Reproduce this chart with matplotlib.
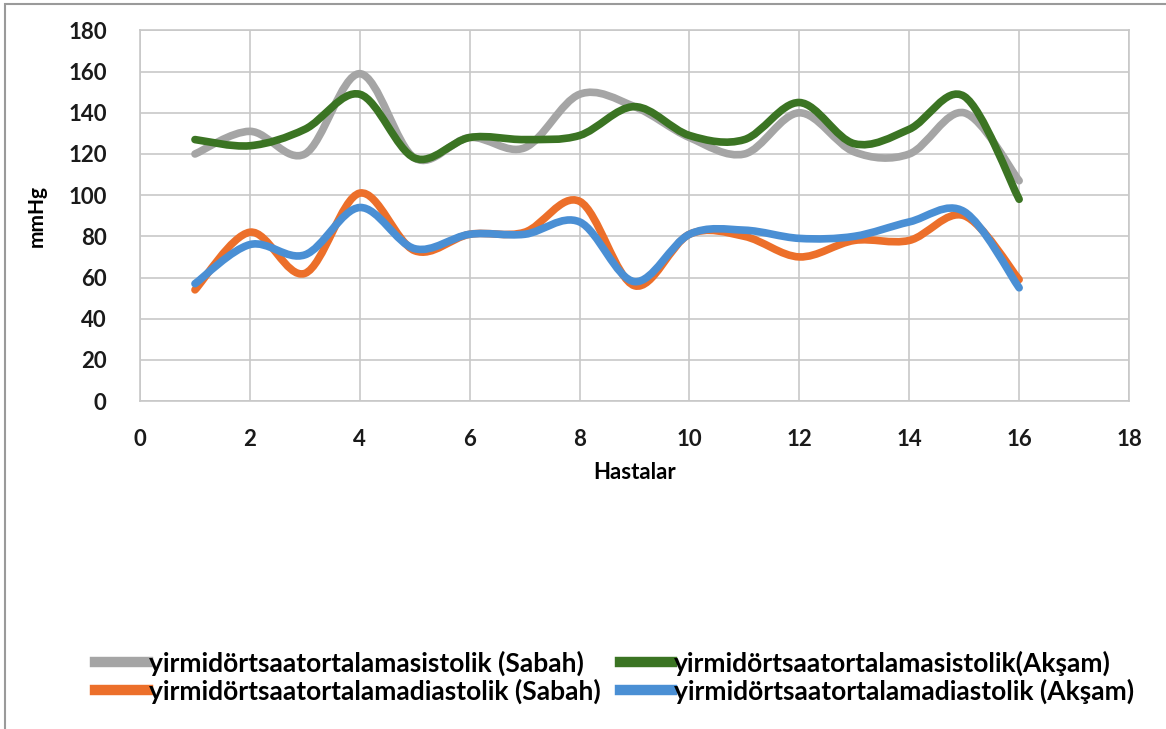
import numpy as np
import matplotlib.pyplot as plt
from matplotlib.path import Path
from matplotlib.patches import PathPatch, Rectangle
from matplotlib.lines import Line2D

plt.rcParams['font.family'] = ['Lato', 'DejaVu Sans']
plt.rcParams['font.weight'] = 'bold'

# Hasta numaraları ve 24 saatlik ortalama tansiyon değerleri (mmHg)
hastalar = np.arange(1, 17)
sistolik_sabah = [120, 131, 120, 159, 118, 128, 123, 149, 143, 128, 120, 140, 121, 120, 140, 107]
sistolik_aksam = [127, 124, 132, 149, 118, 128, 127, 129, 143, 129, 127, 145, 125, 132, 148, 98]
diastolik_sabah = [54, 82, 62, 101, 73, 81, 82, 97, 56, 81, 80, 70, 78, 78, 90, 59]
diastolik_aksam = [57, 76, 71, 94, 74, 81, 81, 87, 58, 81, 83, 79, 80, 87, 92, 55]

etiketler = ['yirmidörtsaatortalamasistolik (Sabah)',
             'yirmidörtsaatortalamasistolik(Akşam)',
             'yirmidörtsaatortalamadiastolik (Sabah)',
             'yirmidörtsaatortalamadiastolik (Akşam)']
renkler = ['#a5a5a5', '#3b7423', '#ec6f2a', '#4a8fd4']


def smooth_path(x, y):
    # Excel tarzı yumuşatılmış çizgi: noktalar arasında Bezier eğrileri
    x = np.asarray(x, float)
    y = np.asarray(y, float)
    px = np.concatenate([[x[0]], x, [x[-1]]])
    py = np.concatenate([[y[0]], y, [y[-1]]])
    verts = [(x[0], y[0])]
    codes = [Path.MOVETO]
    for i in range(1, len(x)):
        c1 = (px[i] + (px[i + 1] - px[i - 1]) / 6, py[i] + (py[i + 1] - py[i - 1]) / 6)
        c2 = (px[i + 1] - (px[i + 2] - px[i]) / 6, py[i + 1] - (py[i + 2] - py[i]) / 6)
        verts += [c1, c2, (px[i + 1], py[i + 1])]
        codes += [Path.CURVE4] * 3
    return Path(verts, codes)


fig = plt.figure(figsize=(11.66, 7.29), dpi=100)
ax = fig.add_axes([0.1201, 0.4499, 0.8482, 0.5083])

seriler = [sistolik_sabah, sistolik_aksam, diastolik_sabah, diastolik_aksam]
for z, (veri, renk) in enumerate(zip(seriler, renkler)):
    ax.add_patch(PathPatch(smooth_path(hastalar, veri), facecolor='none', edgecolor=renk,
                           lw=5.5, capstyle='round', joinstyle='round', zorder=3 + z))

ax.set_xlim(0, 18)
ax.set_ylim(0, 180)
ax.set_xticks(range(0, 19, 2))
ax.set_yticks(range(0, 181, 20))
ax.grid(True, color='#c8c8c8', lw=1.2)
for s in ax.spines.values():
    s.set_color('#c8c8c8')
    s.set_linewidth(1.2)
ax.tick_params(length=0, labelsize=16, colors='#1a1a1a')
ax.tick_params(axis='y', pad=24)
ax.tick_params(axis='x', pad=20)
ax.set_xlabel('Hastalar', fontsize=16, fontweight='bold', labelpad=9)
ax.set_ylabel('mmHg', fontsize=15, fontweight='bold', labelpad=15)

tutamaclar = [Line2D([], [], color=r, lw=7.5) for r in renkler]
sira = [0, 2, 1, 3]
fig.legend([tutamaclar[i] for i in sira], [etiketler[i] for i in sira],
           ncol=2, loc='center', bbox_to_anchor=(0.527, 0.071), frameon=False,
           fontsize=19, handlelength=2.0, handletextpad=0.05, columnspacing=0.7,
           labelspacing=0.1)

# dış çerçeve
fig.patches.append(Rectangle((5 / 1166, -0.01), 1.1, 1 - 4 / 729 + 0.01, transform=fig.transFigure,
                             fill=False, edgecolor='#9a9a9a', lw=1.5))

fig.savefig('out.png', dpi=100)
